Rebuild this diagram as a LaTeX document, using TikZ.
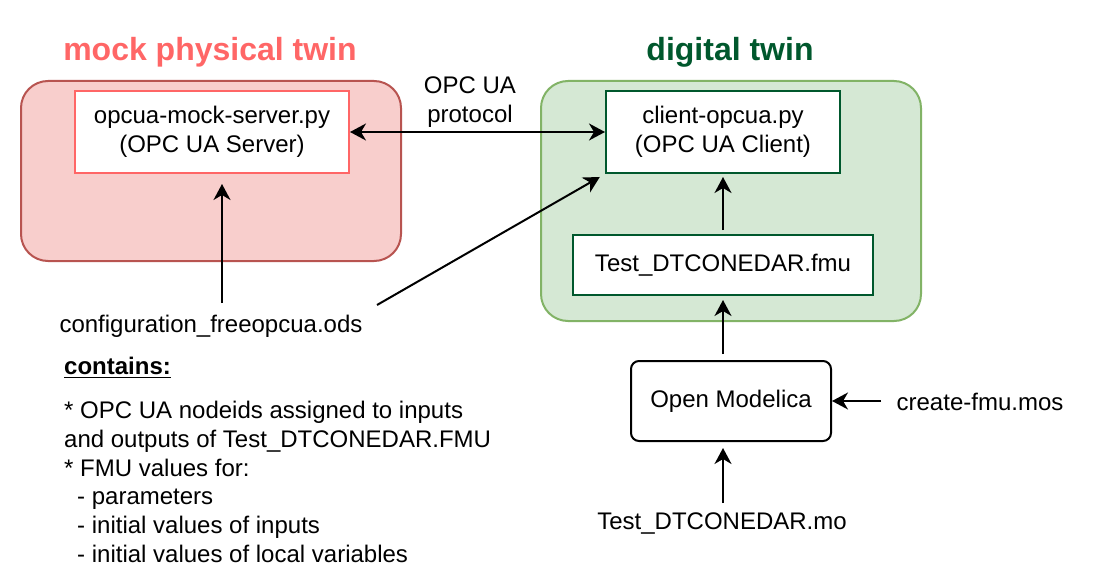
\documentclass[tikz,border=0pt]{standalone}
\usepackage{fontspec}
\setmainfont{Liberation Sans}
\usetikzlibrary{arrows.meta}
\definecolor{redfill}{HTML}{F8CECC}
\definecolor{redline}{HTML}{B85450}
\definecolor{redtxt}{HTML}{FF6666}
\definecolor{greenfill}{HTML}{D5E8D4}
\definecolor{greenline}{HTML}{82B366}
\definecolor{dkgreen}{RGB}{0,88,45}
\tikzset{
  body/.style={font=\fontsize{24}{28.8}\selectfont, text=black},
  ttl/.style={font=\fontsize{32}{38}\selectfont\bfseries},
  cont/.style={rounded corners=27pt, line width=2pt},
  inbox/.style={draw, fill=white, line width=2pt, body, align=center, inner sep=0pt},
  txt/.style={body, inner sep=0pt},
  tip/.tip={Stealth[length=16pt,width=17pt,inset=5pt]},
  arr/.style={line width=2pt, -tip},
}
\begin{document}
\begin{tikzpicture}[x=1pt,y=-1pt]
\useasboundingbox (0,0) rectangle (1102,588);
\fill[white] (0,0) rectangle (1102,588);

% containers
\node[cont, draw=redline, fill=redfill, minimum width=380pt, minimum height=180pt] (redc) at (211,171) {};
\node[cont, draw=greenline, fill=greenfill, minimum width=380pt, minimum height=240pt] (grc) at (731,201) {};

% titles
\node[ttl, text=redtxt] (t1) at (210,52) {mock physical twin};
\node[ttl, text=dkgreen] (t2) at (730,52) {digital twin};

% boxes
\node[inbox, draw=redtxt, minimum width=274pt, minimum height=82pt] (srv) at (212,132) {opcua-mock-server.py\\(OPC UA Server)};
\node[inbox, draw=dkgreen, minimum width=234pt, minimum height=82pt] (cli) at (723,132) {client-opcua.py\\(OPC UA Client)};
\node[inbox, draw=dkgreen, minimum width=300pt, minimum height=60pt] (fmu) at (723,265) {Test\_DTCONEDAR.fmu};
\node[inbox, draw=black, rounded corners=8pt, minimum width=200pt, minimum height=80pt] (om) at (731,401) {Open Modelica};

% free texts
\node[txt, align=center] (proto) at (470,102) {OPC UA\\protocol};
\node[txt] (cfg) at (211,326) {configuration\_freeopcua.ods};
\node[txt] (cmos) at (980,402) {create-fmu.mos};
\node[txt] (mo) at (722,524) {Test\_DTCONEDAR.mo};

\node[txt, anchor=base west, font=\fontsize{24}{28.8}\selectfont\bfseries] (cont) at (64,374) {contains:};
\draw[line width=1.6pt] ([yshift=-3.5pt]cont.base west) -- ([yshift=-3.5pt]cont.base east);
\node[txt, anchor=base west] (l1) at (64,418) {* OPC UA nodeids assigned to inputs};
\node[txt, anchor=base west] (l2) at (64,447) {and outputs of Test\_DTCONEDAR.FMU};
\node[txt, anchor=base west] (l3) at (64,476) {* FMU values for:};
\node[txt, anchor=base west] (l4) at (77,504) {- parameters};
\node[txt, anchor=base west] (l5) at (77,533) {- initial values of inputs};
\node[txt, anchor=base west] (l6) at (77,562) {- initial values of local variables};

% connector ends
\coordinate (cfgtop) at (222,303);
\coordinate (cfgr) at (377,305);
\coordinate (cmosl) at (881,401);
\coordinate (motop) at (723,503);

% connectors
\draw[line width=2pt, tip-tip] (srv.east) -- (cli.west);
\draw[arr, shorten >=10pt] (cfgtop) -- (cfgtop |- srv.south);
\draw[arr, shorten >=6pt] (cfgr) -- (cli.south west);
\draw[arr, shorten <=4pt, shorten >=3pt] (fmu.north) -- (fmu.north |- cli.south);
\draw[arr, shorten <=6pt, shorten >=4pt] (fmu.south |- om.north) -- (fmu.south);
\draw[arr] (cmosl) -- (om.east);
\draw[arr, shorten >=6pt] (motop) -- (motop |- om.south);
\end{tikzpicture}
\end{document}
